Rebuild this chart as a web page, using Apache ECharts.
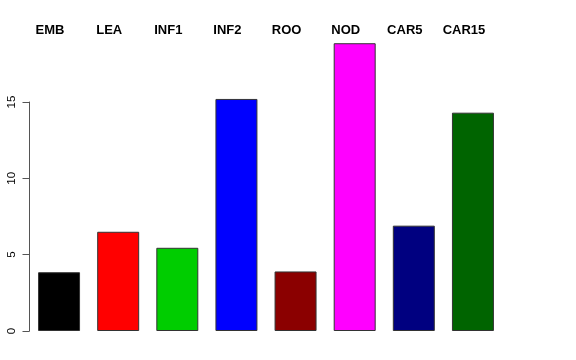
<!DOCTYPE html>
<html><head><meta charset="utf-8">
<script src="https://cdn.jsdelivr.net/npm/echarts@6/dist/echarts.min.js"></script>
<style>html,body{margin:0;padding:0;background:#fff}#c{width:576px;height:360px}</style>
</head><body><div id="c"></div>
<script>
const categories = ['EMB','LEA','INF1','INF2','ROO','NOD','CAR5','CAR15'];
const values = [3.85, 6.5, 5.45, 15.2, 3.9, 18.85, 6.9, 14.3];
const colors = ['#000000','#FF0000','#00CD00','#0000FF','#8B0000','#FF00FF','#000080','#006400'];
const yTicks = [0, 5, 10, 15];

const chart = echarts.init(document.getElementById('c'), null, {renderer:'canvas'});
chart.setOption({
  animation: false,
  grid: {left: 29.5, right: 73.5, top: 102, bottom: 29},
  xAxis: [{
    type: 'category', data: categories, position: 'top',
    axisLine: {show: false}, axisTick: {show: false},
    axisLabel: {show: true, fontFamily: 'Liberation Sans', fontWeight: 'bold', fontSize: 13, color: '#000',
      margin: 65, padding: [0, 18, 0, 0]}
  }],
  yAxis: {
    type: 'value', min: 0, max: 15, interval: 5,
    splitLine: {show: false},
    axisLine: {show: true, lineStyle: {color: '#555', width: 1}},
    axisTick: {show: true, length: 7, lineStyle: {color: '#555'}},
    axisLabel: {rotate: 90, margin: 12, fontFamily: 'Liberation Sans', fontSize: 11.5, color: '#000',
      formatter: v => yTicks.includes(v) ? String(v) : ''}
  },
  series: [{
    type: 'bar', clip: false, barCategoryGap: '29%',
    data: values.map((v, i) => ({value: v, itemStyle: {color: colors[i]}})),
    itemStyle: {borderColor: '#333', borderWidth: 1}
  }]
});
</script></body></html>
